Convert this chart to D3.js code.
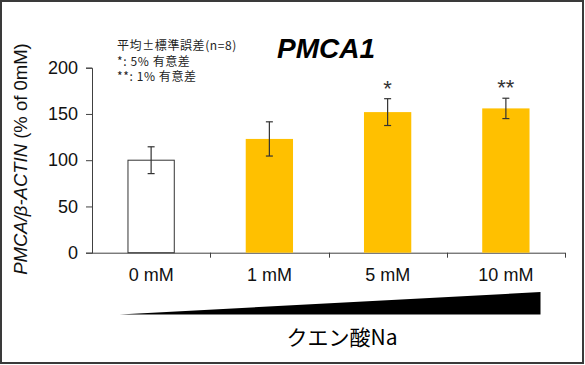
<!DOCTYPE html>
<html><head><meta charset="utf-8">
<script src="https://cdn.jsdelivr.net/npm/d3@7/dist/d3.min.js"></script>
<style>body{margin:0;background:#fff}svg{display:block}</style>
</head><body>
<script>
const categories = ["0 mM", "1 mM", "5 mM", "10 mM"];
const values = [100, 123, 152, 156];
const errors = [14.5, 18.5, 14.5, 11];
const significance = ["", "", "*", "**"];
const yTicks = [0, 50, 100, 150, 200];
const titleText = "PMCA1";
const legendLines = ["平均±標準誤差(n=8)", "*: 5% 有意差", "**: 1% 有意差"];
const xTitle = "クエン酸Na";

const W = 585, H = 365;
const svg = d3.select("body").append("svg").attr("width", W).attr("height", H);
svg.append("rect").attr("width", W).attr("height", H).attr("fill", "#fff");
svg.append("rect").attr("x", 1).attr("y", 1).attr("width", W - 3).attr("height", H - 3)
  .attr("fill", "none").attr("stroke", "#3a3a3a").attr("stroke-width", 2);

const x0 = 92, x1 = 565, yTop = 67.7, yBot = 252.7;
const x = d3.scaleBand().domain(categories).range([x0, x1]).paddingInner(0.6).paddingOuter(0.3);
const y = d3.scaleLinear().domain([0, 200]).range([yBot, yTop]);
const band = d3.scaleBand().domain(categories).range([x0, x1]);

const axisColor = "#404040";
// Y axis
const yAxis = svg.append("g").attr("transform", `translate(${x0},0)`)
  .call(d3.axisLeft(y).tickValues(yTicks).tickSize(6).tickPadding(8));
yAxis.select(".domain").attr("stroke", axisColor);
yAxis.selectAll(".tick line").attr("stroke", axisColor);
yAxis.selectAll("text").attr("font-family", "Liberation Sans, Arial, sans-serif")
  .attr("font-size", 18).attr("fill", "#111");

// X axis line with boundary ticks
svg.append("line").attr("x1", x0).attr("x2", x1).attr("y1", yBot + 0.5).attr("y2", yBot + 0.5)
  .attr("stroke", axisColor);
const bounds = categories.map(c => band(c)).concat([x1]);
svg.selectAll(".xt").data(bounds.slice(1)).join("line")
  .attr("x1", d => Math.round(d) + 0.5).attr("x2", d => Math.round(d) + 0.5)
  .attr("y1", yBot).attr("y2", yBot + 5).attr("stroke", axisColor);

// Bars
svg.selectAll(".bar").data(values).join("rect")
  .attr("x", (d, i) => x(categories[i]) + (i === 0 ? 0.5 : 0))
  .attr("width", (d, i) => x.bandwidth() - (i === 0 ? 1 : 0))
  .attr("y", d => y(d))
  .attr("height", d => yBot - y(d))
  .attr("fill", (d, i) => i === 0 ? "#fff" : "#FFC000")
  .attr("stroke", (d, i) => i === 0 ? "#333" : "none");

// Error bars
const eb = svg.append("g").attr("stroke", "#333").attr("stroke-width", 1.2);
values.forEach((v, i) => {
  const cx = x(categories[i]) + x.bandwidth() / 2;
  const t = y(v + errors[i]), b = y(v - errors[i]);
  eb.append("line").attr("x1", cx).attr("x2", cx).attr("y1", t).attr("y2", b);
  eb.append("line").attr("x1", cx - 3.5).attr("x2", cx + 3.5).attr("y1", t).attr("y2", t);
  eb.append("line").attr("x1", cx - 3.5).attr("x2", cx + 3.5).attr("y1", b).attr("y2", b);
});

// Significance stars
svg.selectAll(".sig").data(significance).join("text")
  .attr("x", (d, i) => x(categories[i]) + x.bandwidth() / 2)
  .attr("y", (d, i) => y(values[i] + errors[i]) - 3)
  .attr("text-anchor", "middle")
  .attr("font-family", "Liberation Sans, Arial, sans-serif")
  .attr("font-size", 22).attr("fill", "#333")
  .text(d => d);

// Category labels
svg.selectAll(".cl").data(categories).join("text")
  .attr("x", d => band(d) + band.bandwidth() / 2)
  .attr("y", 281)
  .attr("text-anchor", "middle")
  .attr("font-family", "Liberation Sans, Arial, sans-serif")
  .attr("font-size", 18).attr("fill", "#111")
  .text(d => d);

// Title
svg.append("text").attr("x", 326).attr("y", 58).attr("text-anchor", "middle")
  .attr("font-family", "Liberation Sans, Arial, sans-serif")
  .attr("font-size", 28).attr("font-weight", "bold").attr("font-style", "italic")
  .attr("fill", "#000").text(titleText);

// Legend text
svg.selectAll(".lg").data(legendLines).join("text")
  .attr("x", 117).attr("y", (d, i) => 50 + i * 15.5)
  .attr("font-family", "Noto Sans CJK JP, sans-serif")
  .attr("font-size", 12).attr("letter-spacing", 0.6).attr("fill", "#222")
  .text(d => d);

// Y axis title
const yt = svg.append("text").attr("transform", "translate(27,159) rotate(-90)")
  .attr("text-anchor", "middle")
  .attr("font-family", "Liberation Sans, Arial, sans-serif")
  .attr("font-size", 18.5).attr("fill", "#111");
yt.append("tspan").attr("font-style", "italic").text("PMCA/β-ACTIN");
yt.append("tspan").text(" (% of 0mM)");

// Concentration wedge
const wedge = [[119.5, 314.5], [540.5, 292], [540.5, 314.5]];
svg.append("path").attr("d", d3.line()(wedge) + "Z").attr("fill", "#000");

// X title
svg.append("text").attr("x", 342).attr("y", 345).attr("text-anchor", "middle")
  .attr("font-family", "Noto Sans CJK JP, sans-serif")
  .attr("font-size", 21).attr("fill", "#000").text(xTitle);
</script>
</body></html>
